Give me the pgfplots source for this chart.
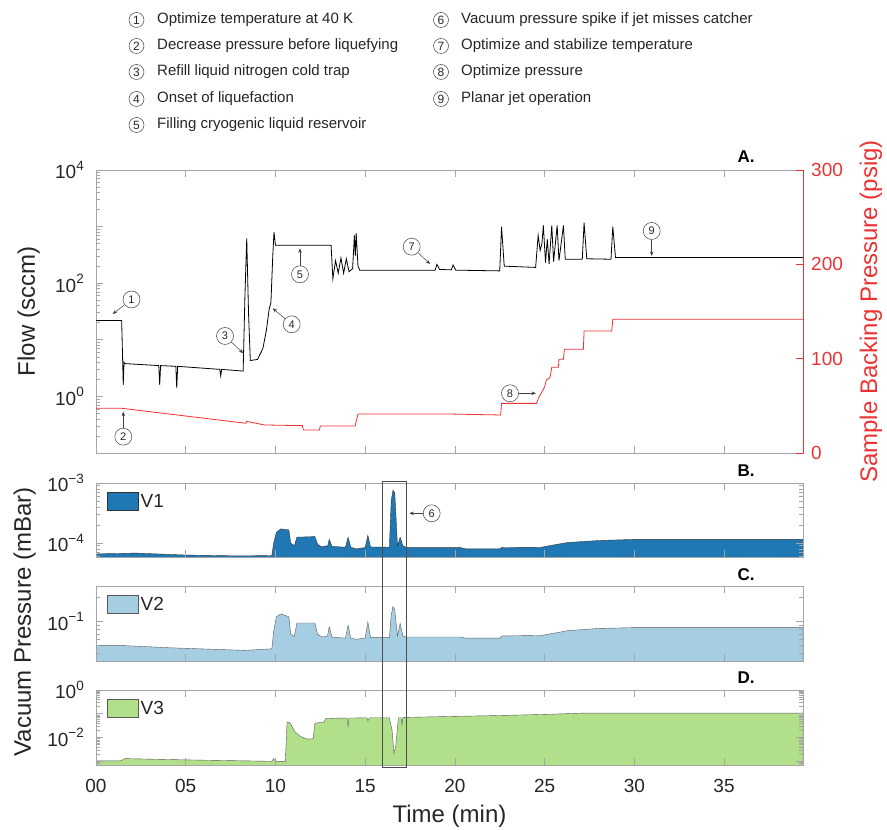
\documentclass[border=0pt]{standalone}
\usepackage{fontspec}
\setmainfont{Liberation Sans}
\usepackage{pgfplots}
\pgfplotsset{compat=1.18}
\usetikzlibrary{arrows.meta}

\definecolor{myred}{RGB}{236,50,50}
\definecolor{vone}{RGB}{31,120,180}
\definecolor{vtwo}{RGB}{166,206,227}
\definecolor{vthree}{RGB}{178,223,138}
\definecolor{frame}{RGB}{165,165,165}

\newcommand{\fs}[1]{\fontsize{#1}{#1}\selectfont}
\newcommand{\tp}[1]{10\raisebox{0.45em}{\fs{13.5}#1}}

\pgfplotsset{
  base/.style={
    scale only axis, width=707pt,
    xmin=0, xmax=39.4,
    xtick={0,5,10,15,20,25,30,35},
    axis line style={frame, line width=0.6pt},
    every tick/.style={frame, line width=0.6pt},
    major tick length=7pt, minor tick length=4pt,
    tick align=inside,
    tick label style={text=black!85, font=\fs{19}},
  },
  lefty/.style={yticklabel style={anchor=east, inner sep=0pt, xshift=-12pt}},
  vac/.style={
    base, lefty, xticklabels={}, axis on top,
    legend style={at={(0,1)}, anchor=north west, xshift=11pt, yshift=-9pt,
      draw=none, fill=none, inner sep=0pt, font=\fs{19}, text=black!85},
  },
}

\tikzset{
  ann/.style={circle, draw=black!75, line width=0.5pt, minimum size=17pt, inner sep=0pt, font=\fs{11}, text=black!85},
  lg/.style={circle, draw=black!75, line width=0.5pt, minimum size=15pt, inner sep=0pt, font=\fs{12}, text=black!85},
  arr/.style={-{Stealth[length=4.5pt,width=3.5pt]}, black!75, line width=0.5pt},
  lt/.style={anchor=west, font=\fs{15}, text=black!85, inner sep=0pt},
}

\begin{document}
\begin{tikzpicture}[x=1pt,y=1pt]
\useasboundingbox (0,0) rectangle (887,830);

% ---------------- Panel A : flow (log) ----------------
\begin{axis}[base, lefty, at={(96pt,377pt)}, anchor=south west, height=283pt,
  ymode=log, ymin=0.1, ymax=10000,
  ytick={0.1,1,10,100,1000,10000},
  yticklabels={,\tp{0},,\tp{2},,\tp{4}},
  minor ytick={0.2,0.3,0.4,0.5,0.6,0.7,0.8,0.9,2,3,4,5,6,7,8,9,20,30,40,50,60,70,80,90,200,300,400,500,600,700,800,900,2000,3000,4000,5000,6000,7000,8000,9000},
  ytick pos=left, xticklabels={},
  ylabel={Flow (sccm)},
  ylabel style={font=\fs{24}, text=black!85, at={(axis description cs:-0.0863,0.5)}, anchor=base},
]
\addplot[black, line width=0.8pt] coordinates {
(0,22) (1.43,22) (1.48,5) (1.52,1.6) (1.56,4) (1.6,3.8) (3.5,3.5) (3.55,1.6) (3.6,3.5)
(4.45,3.4) (4.5,1.4) (4.55,3.4) (6.9,3.0) (6.95,2.3) (7.0,3.0) (8.2,2.8) (8.3,60)
(8.4,620) (8.5,30) (8.6,4.3) (9.0,4.5) (9.3,7) (9.5,15) (9.65,35) (9.75,46) (9.85,300)
(9.92,800) (10.0,470) (13.1,470) (13.2,120) (13.35,250) (13.5,150) (13.65,280) (13.8,150)
(13.95,270) (14.1,160) (14.3,180) (14.4,700) (14.45,300) (14.5,770) (14.6,200) (14.7,170)
(18.9,170) (19.0,215) (19.15,175) (19.8,172) (19.9,210) (20.05,170) (22.5,165) (22.6,1000)
(22.75,200) (24.5,190) (24.64,700) (24.75,380) (24.85,500) (24.93,1050) (25.05,230)
(25.15,600) (25.25,220) (25.4,1050) (25.5,240) (25.7,1050) (25.8,250) (26.05,1050)
(26.15,265) (27.1,265) (27.2,1170) (27.35,270) (28.7,265) (28.8,1000) (28.95,285) (39.4,285)
};
\end{axis}

% ---------------- Panel A : backing pressure (linear, right) ----------------
\begin{axis}[base, at={(96pt,377pt)}, anchor=south west, height=283pt,
  ymin=0, ymax=300, axis x line=none, axis y line*=right,
  axis line style={myred, line width=0.6pt},
  every tick/.append style={myred},
  ytick={0,100,200,300}, yticklabels={0,100,200,300},
  yticklabel style={text=myred, anchor=west, inner sep=0pt, xshift=8pt},
  ylabel={Sample Backing Pressure (psig)},
  ylabel style={font=\fs{24}, text=myred, at={(axis description cs:1.1047,0.5)}, anchor=base},
]
\addplot[myred, line width=0.8pt] coordinates {
(0,47.4) (1.43,47.4) (8.36,31.5) (8.4,33.5) (9.4,29.7) (11.5,29) (11.56,24.4) (12.45,24.4)
(12.5,28.6) (14.44,28.6) (14.6,41.3) (19.7,41.3) (22.55,40.3) (22.6,52.6) (24.55,52.6)
(24.7,60) (24.8,63) (25.0,70) (25.1,77.4) (25.3,80) (25.4,90.8) (25.77,90.8) (25.8,99.3)
(26.05,99.3) (26.1,110) (27.16,110) (27.2,129.3) (28.74,129.3) (28.8,141.7) (39.4,141.7)
};
\end{axis}

% ---------------- Panel B : V1 ----------------
\begin{axis}[vac, at={(96pt,273pt)}, anchor=south west, height=74pt,
  ymode=log, ymin=5.85e-5, ymax=1e-3,
  ytick={1e-4,1e-3}, yticklabels={\tp{−4},\tp{−3}},
  minor ytick={6e-5,7e-5,8e-5,9e-5,2e-4,3e-4,4e-4,5e-4,6e-4,7e-4,8e-4,9e-4},
  legend image code/.code={\draw[#1] (0pt,-9pt) rectangle (31pt,9pt);},
]
\addplot[fill=vone, draw=black!80, line width=0.4pt] coordinates {
(0,5.85e-5) (0,6.6e-5) (1.4,6.7e-5) (2.2,6.8e-5) (5,6.3e-5) (8,6.1e-5) (9.8,6.2e-5)
(9.9,1.0e-4) (10.05,1.5e-4) (10.3,1.72e-4) (10.75,1.65e-4) (10.85,1.0e-4) (11.05,9.0e-5)
(11.2,1.25e-4) (12.2,1.28e-4) (12.35,9.5e-5) (12.6,8.6e-5) (12.8,9.0e-5) (12.9,8.7e-5)
(13.0,1.15e-4) (13.15,8.8e-5) (13.9,8.5e-5) (14.05,1.25e-4) (14.2,8.5e-5) (14.5,8.0e-5)
(15.0,8.4e-5) (15.15,1.35e-4) (15.3,8.6e-5) (16.35,8.5e-5) (16.45,5.0e-4) (16.55,7.6e-4)
(16.65,6.8e-4) (16.8,9.0e-5) (16.95,1.25e-4) (17.1,9.0e-5) (17.3,8.4e-5) (20.3,8.4e-5)
(20.6,8.0e-5) (22.5,8.0e-5) (22.6,8.4e-5) (24.8,8.5e-5) (25.6,9.4e-5) (26.3,1.02e-4)
(28.0,1.1e-4) (30.0,1.15e-4) (39.4,1.15e-4) (39.4,5.85e-5)
};
\addlegendentry{V1}
\end{axis}

% ---------------- Panel C : V2 ----------------
\begin{axis}[vac, at={(96pt,169pt)}, anchor=south west, height=75pt,
  ymode=log, ymin=0.032, ymax=0.28,
  ytick={0.1}, yticklabels={\tp{−1}},
  minor ytick={0.04,0.05,0.06,0.07,0.08,0.09,0.2},
  legend image code/.code={\draw[#1] (0pt,-9pt) rectangle (31pt,9pt);},
]
\addplot[fill=vtwo, draw=black!65, line width=0.4pt] coordinates {
(0,0.032) (0,0.05) (1.5,0.05) (4,0.047) (8.3,0.0435) (9.8,0.0455) (9.9,0.075) (10.05,0.115)
(10.3,0.125) (10.75,0.115) (10.85,0.07) (11.05,0.065) (11.2,0.096) (12.2,0.096) (12.35,0.069)
(12.6,0.064) (12.9,0.066) (13.0,0.086) (13.15,0.064) (13.9,0.062) (14.05,0.09) (14.2,0.062)
(14.5,0.06) (15.0,0.062) (15.15,0.099) (15.3,0.063) (16.35,0.063) (16.45,0.12) (16.55,0.155)
(16.65,0.14) (16.8,0.066) (16.95,0.095) (17.1,0.066) (17.3,0.064) (20.3,0.064) (20.6,0.062)
(22.5,0.062) (22.6,0.066) (24.8,0.067) (25.6,0.072) (26.3,0.077) (28,0.082) (30,0.084)
(39.4,0.084) (39.4,0.032)
};
\addlegendentry{V2}
\end{axis}

% ---------------- Panel D : V3 ----------------
\begin{axis}[vac, at={(96pt,65pt)}, anchor=south west, height=75pt,
  ymode=log, ymin=7e-4, ymax=1,
  ytick={1e-3,1e-2,1e-1,1}, yticklabels={,\tp{−2},,\tp{0}},
  minor ytick={8e-4,9e-4,2e-3,3e-3,4e-3,5e-3,6e-3,7e-3,8e-3,9e-3,0.02,0.03,0.04,0.05,0.06,0.07,0.08,0.09,0.2,0.3,0.4,0.5,0.6,0.7,0.8,0.9},
  legend image code/.code={\draw[#1] (0pt,-9pt) rectangle (31pt,9pt);},
  xticklabels={00,05,10,15,20,25,30,35},
  xticklabel style={anchor=base, inner sep=0pt, yshift=-28pt, font=\fs{19}},
  xlabel={Time (min)},
  xlabel style={font=\fs{24}, text=black!85, at={(axis description cs:0.5,0)}, anchor=base, yshift=-58pt},
]
\addplot[fill=vthree, draw=black!65, line width=0.4pt] coordinates {
(0,7e-4) (0,1.05e-3) (1.4,1.05e-3) (1.6,1.3e-3) (5,1.15e-3) (9.8,1.0e-3) (9.9,1.3e-3)
(10.0,1.0e-3) (10.55,1.0e-3) (10.65,0.045) (10.8,0.042) (10.9,0.032) (11.1,0.017) (11.4,0.011)
(11.8,0.0085) (12.1,0.009) (12.2,0.04) (12.7,0.045) (12.8,0.062) (13.5,0.066) (14.0,0.066)
(14.05,0.03) (14.1,0.066) (15.1,0.068) (15.15,0.05) (15.25,0.068) (16.35,0.068) (16.5,0.02)
(16.6,0.0022) (16.7,0.004) (16.85,0.068) (17.0,0.068) (17.05,0.035) (17.1,0.07) (19.0,0.075)
(22.6,0.085) (25,0.094) (27.2,0.107) (39.4,0.107) (39.4,7e-4)
};
\addlegendentry{V3}
\end{axis}

% ---------------- shared label, panel letters, box ----------------
\node[rotate=90, anchor=base, font=\fs{24}, text=black!85] at (31,208) {Vacuum Pressure (mBar)};
\node[font=\bfseries\fs{17}] at (746,673) {A.};
\node[font=\bfseries\fs{17}] at (746,359) {B.};
\node[font=\bfseries\fs{17}] at (746,255) {C.};
\node[font=\bfseries\fs{17}] at (746,152) {D.};
\draw[black!70, line width=0.5pt] (382.7,63) rectangle (406.7,349);

% ---------------- annotations ----------------
\node[ann] (c1) at (131.5,530.5) {1}; \draw[arr] (c1) -- (112.7,516);
\node[ann] (c2) at (123.3,393.3) {2}; \draw[arr] (c2) -- (123.3,418.3);
\node[ann] (c3) at (225,494) {3};     \draw[arr] (c3) -- (243.3,476.7);
\node[ann] (c4) at (291.7,505.7) {4}; \draw[arr] (c4) -- (272.7,521.7);
\node[ann] (c5) at (300,555.7) {5};   \draw[arr] (c5) -- (300,581.7);
\node[ann] (c6) at (431.7,316.7) {6}; \draw[arr] (c6) -- (409.3,316.7);
\node[ann] (c7) at (411.7,583.3) {7}; \draw[arr] (c7) -- (430,566);
\node[ann] (c8) at (510,436.7) {8};   \draw[arr] (c8) -- (536,436.7);
\node[ann] (c9) at (651.7,599) {9};   \draw[arr] (c9) -- (651.7,574);

% ---------------- top key ----------------
\node[lg] at (136.5,810) {1}; \node[lt] at (157,810) {Optimize temperature at 40 K};
\node[lg] at (136.5,784) {2}; \node[lt] at (157,784) {Decrease pressure before liquefying};
\node[lg] at (136.5,758) {3}; \node[lt] at (157,758) {Refill liquid nitrogen cold trap};
\node[lg] at (136.5,731) {4}; \node[lt] at (157,731) {Onset of liquefaction};
\node[lg] at (136.5,705) {5}; \node[lt] at (157,705) {Filling cryogenic liquid reservoir};
\node[lg] at (441,810) {6}; \node[lt] at (461,810) {Vacuum pressure spike if jet misses catcher};
\node[lg] at (441,784) {7}; \node[lt] at (461,784) {Optimize and stabilize temperature};
\node[lg] at (441,758) {8}; \node[lt] at (461,758) {Optimize pressure};
\node[lg] at (441,731) {9}; \node[lt] at (461,731) {Planar jet operation};
\end{tikzpicture}
\end{document}
